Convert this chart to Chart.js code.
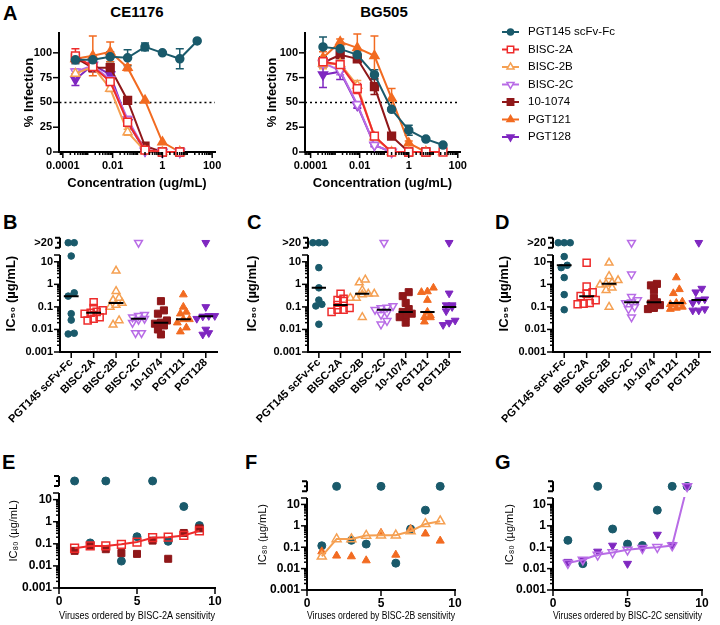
<!DOCTYPE html>
<html>
<head>
<meta charset="utf-8">
<title>BISC neutralization</title>
<script src="https://cdn.jsdelivr.net/npm/chart.js@4.4.1/dist/chart.umd.min.js"></script>
<style>
  body { margin: 0; background: #fff; }
  #page { position: relative; width: 720px; height: 625px; overflow: hidden; font-family: Arial, "Liberation Sans", sans-serif; }
  #page canvas { position: absolute; }
  .lbl { position: absolute; font-weight: bold; color: #000; white-space: nowrap; line-height: 1; }
  .panel { font-size: 20px; }
  .ttl { font-size: 15px; transform: translateX(-50%); }
</style>
</head>
<body>
<div id="page">
  <div class="lbl panel" style="left:3px;top:3px">A</div>
  <div class="lbl ttl" style="left:137px;top:4px">CE1176</div>
  <div class="lbl ttl" style="left:384px;top:4px">BG505</div>
  <div class="lbl panel" style="left:3px;top:212px">B</div>
  <div class="lbl panel" style="left:247px;top:212px">C</div>
  <div class="lbl panel" style="left:495px;top:212px">D</div>
  <div class="lbl panel" style="left:2px;top:452px">E</div>
  <div class="lbl panel" style="left:245px;top:452px">F</div>
  <div class="lbl panel" style="left:495px;top:452px">G</div>
</div>
<script>
// ---- data ----
var names = ['PGT145 scFv-Fc', 'BISC-2A', 'BISC-2B', 'BISC-2C', '10-1074', 'PGT121', 'PGT128'];
var GT = '>20';          // value above the top of the axis
var GT_AT = 70;          // where the ">20" row sits on the log axis

// panel A: antibody concentration (ug/mL), 5-fold dilutions
var conc = [0.00032, 0.0016, 0.008, 0.04, 0.2, 1, 5, 25];
var concTickLabels = ['0.0001', '0.01', '1', '100'];
var infTickLabels = [0, 25, 50, 75, 100];

// % infection, CE1176
var ce_pgt145 = [93, 93, 96, 95, 106, 100, 94, 112];
var ce_pgt145_err = [4, 3, 5, 8, 4, 1, 10, 0];
var ce_bisc2a = [97, 86, 71, 30, 2, 0, 0];
var ce_bisc2a_err = [7, 3, 3, 3, 1, 0, 0];
var ce_bisc2b = [79, 86, 64, 20, 1, 0, 0];
var ce_bisc2b_err = [4, 3, 3, 3, 0, 0, 0];
var ce_bisc2c = [81, 87, 73, 33, 2, 0, 0];
var ce_bisc2c_err = [3, 2, 3, 3, 0, 0, 0];
var ce_1074 = [95, 85, 85, 52, 6, 0, 0];
var ce_1074_err = [3, 4, 3, 2, 1, 0, 0];
var ce_pgt121 = [94, 97, 101, 85, 52, 10, 0];
var ce_pgt121_err = [3, 20, 10, 3, 0, 0, 0];
var ce_pgt128 = [73, 88, 78, 30, 1, 0, 0];
var ce_pgt128_err = [6, 3, 3, 3, 0, 0, 0];

// % infection, BG505
var bg_pgt145 = [106, 104, 98, 78, 43, 22, 13, 7];
var bg_pgt145_err = [10, 3, 4, 5, 2, 5, 1, 1];
var bg_bisc2a = [91, 88, 64, 16, 0, 0, 0, 0];
var bg_bisc2a_err = [3, 3, 5, 2, 0, 0, 0, 0];
var bg_bisc2b = [89, 89, 67, 15, 0, 0, 0, 0];
var bg_bisc2b_err = [5, 3, 5, 2, 0, 0, 0, 0];
var bg_bisc2c = [90, 82, 48, 7, 0];
var bg_bisc2c_err = [3, 4, 3, 2, 0];
var bg_1074 = [90, 98, 94, 66, 16, 0, 0];
var bg_1074_err = [3, 3, 3, 8, 2, 0, 0];
var bg_pgt121 = [95, 111, 105, 97, 54, 9, 0];
var bg_pgt121_err = [6, 3, 14, 20, 10, 2, 0];
var bg_pgt128 = [78, 81, 47, 7, 0];
var bg_pgt128_err = [13, 8, 3, 1, 0];

// panels B-G: log axis labels
var icTickLabels = ['0.001', '0.01', '0.1', '1', '10'];
var virusTickLabels = [0, 5, 10];

// B: IC50 (ug/mL) per virus
var ic50_pgt145 = [GT, GT, 18, 0.42, 0.30, 0.05, 0.026, 0.0063, 0.0068];
var ic50_bisc2a = [0.16, 0.09, 0.07, 0.06, 0.055, 0.05, 0.035, 0.03, 0.025];
var ic50_bisc2b = [4, 0.5, 0.25, 0.2, 0.15, 0.12, 0.1, 0.025, 0.016];
var ic50_bisc2c = [GT, 0.045, 0.04, 0.035, 0.03, 0.027, 0.02, 0.007, 0.007];
var ic50_1074 = [0.18, 0.07, 0.05, 0.025, 0.02, 0.018, 0.015, 0.01, 0.006];
var ic50_pgt121 = [0.35, 0.1, 0.06, 0.05, 0.028, 0.028, 0.02, 0.012, 0.008];
var ic50_pgt128 = [GT, 0.1, 0.04, 0.04, 0.038, 0.03, 0.01, 0.007, 0.006];

// C: IC80
var ic80_pgt145 = [GT, GT, GT, 5.5, 0.7, 0.2, 0.13, 0.11, 0.017];
var ic80_bisc2a = [0.38, 0.23, 0.2, 0.18, 0.12, 0.09, 0.075, 0.075, 0.06];
var ic80_bisc2b = [1.6, 1.2, 0.55, 0.38, 0.38, 0.35, 0.25, 0.25, 0.035];
var ic80_bisc2c = [GT, 0.11, 0.095, 0.09, 0.075, 0.055, 0.045, 0.024, 0.017];
var ic80_1074 = [0.45, 0.3, 0.15, 0.08, 0.06, 0.05, 0.04, 0.035, 0.02];
var ic80_pgt121 = [0.7, 0.48, 0.45, 0.2, 0.06, 0.042, 0.035, 0.034, 0.022];
var ic80_pgt128 = [GT, 0.4, 0.12, 0.12, 0.1, 0.065, 0.025, 0.02, 0.016];

// D: IC95
var ic95_pgt145 = [GT, GT, GT, 17, 7, 5.5, 2.0, 0.35, 0.075];
var ic95_bisc2a = [9, 0.8, 0.45, 0.38, 0.3, 0.2, 0.15, 0.14, 0.13];
var ic95_bisc2b = [9, 2.3, 1.5, 1.2, 1.05, 0.95, 0.7, 0.55, 0.1];
var ic95_bisc2c = [GT, 2.8, 0.28, 0.2, 0.16, 0.15, 0.1, 0.08, 0.035];
var ic95_1074 = [1.05, 0.9, 0.55, 0.25, 0.16, 0.14, 0.12, 0.09, 0.08];
var ic95_pgt121 = [2, 0.6, 0.4, 0.17, 0.15, 0.13, 0.1, 0.09, 0.08];
var ic95_pgt128 = [GT, 0.65, 0.45, 0.22, 0.2, 0.15, 0.08, 0.07, 0.07];

// E-G: IC80 with viruses 1..9 ordered by BISC sensitivity
var viruses = [1, 2, 3, 4, 5, 6, 7, 8, 9];
var e_bisc2a = [0.063, 0.08, 0.08, 0.095, 0.12, 0.19, 0.2, 0.24, 0.39];
var e_1074 = [0.048, 0.08, 0.057, 0.038, 0.035, 0.14, 0.021, 0.31, 0.5];
var e_pgt145 = [GT, 0.11, GT, 0.0165, 0.21, GT, 0.13, 4.9, 0.67];
var f_bisc2b = [0.037, 0.24, 0.24, 0.35, 0.36, 0.36, 0.56, 1.23, 1.65];
var f_pgt121 = [0.063, 0.04, 0.037, 0.024, 0.46, 0.044, 0.7, 0.43, 0.2];
var f_pgt145 = [0.117, GT, 0.21, 0.14, GT, 0.018, 0.71, 5.4, GT];
var g_bisc2c = [0.018, 0.026, 0.044, 0.057, 0.076, 0.09, 0.1, 0.12, GT];
var g_pgt128 = [0.021, 0.025, 0.063, 0.12, 0.017, 0.09, 0.39, 0.13, GT];
var g_pgt145 = [0.21, 0.017, GT, 0.71, 0.14, 0.12, 5.4, GT, GT];

// ---- styles ----
var FONT = 'Arial, "Liberation Sans", sans-serif';
Chart.defaults.font.family = FONT;
Chart.defaults.color = '#000';

var colors = ['#1a5a6b', '#ee2b2b', '#f5a052', '#b86ce6', '#8f1719', '#f26b21', '#7f27c0'];
var shapes = ['circle', 'rect', 'triangle', 'triangle', 'rect', 'triangle', 'triangle'];
var rots = [0, 0, 0, 180, 0, 0, 180];
var filled = [true, false, false, false, true, true, true];
var AXIS_TOP = 20;      // broken log axis stops here
var LOG_MAX = 150;      // room above it for the ">20" row

function num(v) { return v === GT ? GT_AT : v; }

function radius(k, big) {
  if (shapes[k] === 'circle') return big ? 4 : 3.3;
  if (shapes[k] === 'rect') return big ? 5.5 : 5;
  return big ? 5.2 : 4.5;
}

function logTicks(lo, hi) {
  var out = [];
  for (var e = -5; e <= 2; e++) {
    for (var m = 1; m <= 9; m++) {
      var v = parseFloat((m * Math.pow(10, e)).toPrecision(2));
      if (v < lo * 0.999 || v > hi * 1.001) continue;
      out.push({ value: v, major: m === 1 || Math.abs(v - hi) < 1e-9 });
    }
  }
  return out;
}

// short major / minor tick marks
var tickMarks = {
  id: 'tickMarks',
  afterDraw: function (chart) {
    var ctx = chart.ctx;
    ctx.save();
    ctx.strokeStyle = '#000';
    ctx.lineWidth = 1.5;
    ['x', 'y'].forEach(function (k) {
      var s = chart.scales[k];
      s.ticks.forEach(function (t) {
        var len = t.major ? 6 : 3;
        var p = s.getPixelForValue(t.value);
        ctx.beginPath();
        if (s.isHorizontal()) { ctx.moveTo(p, s.top); ctx.lineTo(p, s.top + len); }
        else { ctx.moveTo(s.right, p); ctx.lineTo(s.right - len, p); }
        ctx.stroke();
      });
    });
    ctx.restore();
  }
};

var errorBars = {
  id: 'errorBars',
  beforeDatasetsDraw: function (chart) {
    var ctx = chart.ctx, xs = chart.scales.x, ys = chart.scales.y;
    chart.data.datasets.forEach(function (ds) {
      if (!ds.err) return;
      ctx.save();
      ctx.strokeStyle = ds.borderColor;
      ctx.lineWidth = 1.5;
      ds.data.forEach(function (p, i) {
        var e = ds.err[i];
        if (!e) return;
        var x = xs.getPixelForValue(p.x);
        var y1 = ys.getPixelForValue(Math.max(0, p.y - e)), y2 = ys.getPixelForValue(p.y + e);
        ctx.beginPath();
        ctx.moveTo(x, y1); ctx.lineTo(x, y2);
        ctx.moveTo(x - 4, y1); ctx.lineTo(x + 4, y1);
        ctx.moveTo(x - 4, y2); ctx.lineTo(x + 4, y2);
        ctx.stroke();
      });
      ctx.restore();
    });
  }
};

// y axis line up to 20, then the ">20" row with its short axis piece
function brokenAxis(withLabel) {
  return {
    id: 'brokenAxis',
    afterDraw: function (chart) {
      var ctx = chart.ctx, a = chart.chartArea, ys = chart.scales.y;
      var top = ys.getPixelForValue(AXIS_TOP);
      var y = ys.getPixelForValue(GT_AT);
      ctx.save();
      ctx.strokeStyle = '#000';
      ctx.lineWidth = 2;
      ctx.beginPath();
      ctx.moveTo(a.left, a.bottom + 1); ctx.lineTo(a.left, top);
      ctx.moveTo(a.left, y - 5); ctx.lineTo(a.left, y + 5);
      ctx.moveTo(a.left, y - 5); ctx.lineTo(a.left - 5, y - 5);
      ctx.moveTo(a.left, y + 5); ctx.lineTo(a.left - 5, y + 5);
      ctx.moveTo(a.left, y); ctx.lineTo(a.left - 3, y);
      ctx.stroke();
      if (withLabel) {
        ctx.fillStyle = '#000';
        ctx.font = 'bold 11px ' + FONT;
        ctx.textAlign = 'right';
        ctx.textBaseline = 'middle';
        ctx.fillText('>20', a.left - 7, y);
      }
      ctx.restore();
    }
  };
}

function drawMarker(ctx, k, r, x, y) {
  ctx.save();
  ctx.translate(x, y);
  ctx.rotate(rots[k] * Math.PI / 180);
  ctx.beginPath();
  if (shapes[k] === 'circle') ctx.arc(0, 0, r, 0, Math.PI * 2);
  else if (shapes[k] === 'rect') { var s = r * Math.SQRT1_2; ctx.rect(-s, -s, 2 * s, 2 * s); }
  else {
    for (var i = 0; i < 3; i++) {
      var ang = i * 2 * Math.PI / 3;
      if (i === 0) ctx.moveTo(Math.sin(ang) * r, -Math.cos(ang) * r);
      else ctx.lineTo(Math.sin(ang) * r, -Math.cos(ang) * r);
    }
    ctx.closePath();
  }
  ctx.fillStyle = filled[k] ? colors[k] : '#fff';
  ctx.fill();
  ctx.lineWidth = 1.5;
  ctx.strokeStyle = colors[k];
  ctx.stroke();
  ctx.restore();
}

var sideLegend = {
  id: 'sideLegend',
  afterDraw: function (chart) {
    var ctx = chart.ctx;
    ctx.save();
    ctx.font = '11.5px ' + FONT;
    ctx.textBaseline = 'middle';
    names.forEach(function (n, k) {
      var y = 32 + k * 17.5;
      ctx.strokeStyle = colors[k];
      ctx.lineWidth = 2;
      ctx.beginPath(); ctx.moveTo(262, y); ctx.lineTo(279, y); ctx.stroke();
      drawMarker(ctx, k, radius(k, false) * 0.9, 270.5, y);
      ctx.fillStyle = '#000';
      ctx.fillText(n, 288, y);
    });
    ctx.restore();
  }
};

// ---- helpers to build the panels ----
function makeCanvas(box) {
  var c = document.createElement('canvas');
  c.width = box.w; c.height = box.h;
  c.style.left = box.cx + 'px'; c.style.top = box.cy + 'px';
  document.getElementById('page').appendChild(c);
  return c.getContext('2d');
}

function options(box, xs, ys) {
  xs.afterFit = function (s) { s.height = box.cy + box.h - box.bottom; s.paddingLeft = 0; s.paddingRight = 0; };
  ys.afterFit = function (s) { s.width = box.left - box.cx - box.padL; s.paddingTop = 0; s.paddingBottom = 0; };
  return {
    responsive: false, animation: false, devicePixelRatio: 1,
    layout: { padding: { left: box.padL, top: box.top - box.cy, right: box.cx + box.w - box.right, bottom: 0 } },
    plugins: { legend: { display: false }, tooltip: { enabled: false } },
    scales: { x: xs, y: ys }
  };
}

// box.top is where 20 sits; the plot area reaches higher to hold the ">20" row
function logBox(box) {
  var ppd = (box.bottom - box.top) / Math.log10(AXIS_TOP / 0.001);
  var b = Object.assign({}, box);
  b.gap = Math.log10(LOG_MAX / AXIS_TOP) * ppd;
  b.top = box.top - b.gap;
  b.ppd = ppd;
  return b;
}

function logY(size, title, titleSize, titleBold) {
  return {
    type: 'logarithmic', min: 0.001, max: LOG_MAX,
    afterBuildTicks: function (s) { s.ticks = logTicks(0.001, AXIS_TOP); },
    grid: { display: false, drawTicks: false },
    border: { display: false },
    ticks: {
      autoSkip: false, padding: 7, font: { size: size, weight: 'bold' },
      callback: function (v) { return icTickLabels.indexOf(String(v)) >= 0 ? String(v) : ''; }
    },
    title: { display: true, text: title, font: { size: titleSize, weight: titleBold ? 'bold' : 'normal' }, padding: { top: 4, bottom: 4 } }
  };
}

function seriesA(vals, errs, k) {
  return {
    label: names[k],
    data: vals.map(function (v, i) { return { x: conc[i], y: v }; }),
    err: errs,
    showLine: true,
    borderColor: colors[k], borderWidth: 2,
    backgroundColor: filled[k] ? colors[k] : '#fff',
    pointStyle: shapes[k], pointRotation: rots[k], pointRadius: radius(k, true),
    pointBorderWidth: 1.5, clip: false
  };
}

function infectionPanel(box, sets, xmin, xmax, legend) {
  var ds = sets.map(function (s, k) { return seriesA(s[0], s[1], k); });
  ds.push({
    data: [{ x: xmin, y: 50 }, { x: xmax, y: 50 }], showLine: true, pointRadius: 0,
    borderColor: '#000', borderWidth: 1.5, borderDash: [2, 3], order: 10
  });
  var xs = {
    type: 'logarithmic', min: xmin, max: xmax,
    afterBuildTicks: function (s) {
      s.ticks = logTicks(xmin, xmax).map(function (t) {
        return { value: t.value, major: concTickLabels.indexOf(String(t.value)) >= 0 };
      });
    },
    grid: { display: false, drawTicks: false },
    border: { color: '#000', width: 2 },
    ticks: {
      autoSkip: false, maxRotation: 0, padding: 7, font: { size: 11, weight: 'bold' },
      callback: function (v) { return concTickLabels.indexOf(String(v)) >= 0 ? String(v) : ''; }
    },
    title: { display: true, text: 'Concentration (ug/mL)', font: { size: 13, weight: 'bold' }, padding: { top: 2, bottom: 4 } }
  };
  var ys = {
    type: 'linear', min: 0, max: 120,
    afterBuildTicks: function (s) { s.ticks = infTickLabels.map(function (v) { return { value: v, major: true }; }); },
    grid: { display: false, drawTicks: false },
    border: { color: '#000', width: 2 },
    ticks: { autoSkip: false, padding: 7, font: { size: 11, weight: 'bold' } },
    title: { display: true, text: '% Infection', font: { size: 13, weight: 'bold' }, padding: { top: 4, bottom: 4 } }
  };
  var plugins = [errorBars, tickMarks];
  if (legend) plugins.push(sideLegend);
  new Chart(makeCanvas(box), { type: 'scatter', data: { datasets: ds }, options: options(box, xs, ys), plugins: plugins });
}

// groups points of similar height into rows and centres each row on the category
function swarm(vals, ppd, ppc) {
  var d = 6;
  var idx = vals.map(function (v, i) { return i; }).sort(function (a, b) { return vals[a] - vals[b]; });
  var offs = vals.map(function () { return 0; });
  var row = [], rowY = null;
  function flush() {
    row.forEach(function (i, j) { offs[i] = (j - (row.length - 1) / 2) * d / ppc; });
    row = [];
  }
  idx.forEach(function (i) {
    var y = Math.log10(vals[i]) * ppd;
    if (rowY === null || y - rowY > 4.5) { flush(); rowY = y; }
    row.push(i);
  });
  flush();
  return offs;
}

function median(vals) {
  var s = vals.slice().sort(function (a, b) { return a - b; });
  var n = s.length;
  return n % 2 ? s[(n - 1) / 2] : Math.sqrt(s[n / 2 - 1] * s[n / 2]);
}

function dotPanel(box0, sets, title) {
  var box = logBox(box0);
  var ppc = (box.right - box.left) / 7;
  var ds = [], med = [];
  sets.forEach(function (vals, k) {
    var nums = vals.map(num);
    var offs = swarm(nums, box.ppd, ppc);
    ds.push({
      label: names[k],
      data: nums.map(function (v, i) { return { x: k + offs[i], y: v }; }),
      borderColor: colors[k], backgroundColor: filled[k] ? colors[k] : 'rgba(255,255,255,0)',
      pointStyle: shapes[k], pointRotation: rots[k], pointRadius: radius(k, false),
      pointBorderWidth: filled[k] ? 1 : 1.5, clip: false
    });
    var m = median(nums);
    med.push({ x: k - 0.33, y: m }, { x: k + 0.33, y: m }, { x: k + 0.5, y: null });
  });
  ds.push({ data: med, showLine: true, spanGaps: false, pointRadius: 0, borderColor: '#000', borderWidth: 2, order: -1 });
  var xs = {
    type: 'linear', min: -0.5, max: 6.5,
    afterBuildTicks: function (s) { s.ticks = names.map(function (n, i) { return { value: i, major: true }; }); },
    grid: { display: false, drawTicks: false },
    border: { color: '#000', width: 2 },
    ticks: {
      autoSkip: false, minRotation: 45, maxRotation: 45, padding: 4, font: { size: 11, weight: 'bold' },
      callback: function (v) { return names[v]; }
    }
  };
  var ys = logY(11, title, 13, true);
  new Chart(makeCanvas(box), {
    type: 'scatter', data: { datasets: ds }, options: options(box, xs, ys),
    plugins: [tickMarks, brokenAxis(true)]
  });
}

function virusPanel(box0, lineVals, lineK, dotVals, dotK, refVals, title) {
  var box = logBox(box0);
  var pts = function (vals) { return vals.map(function (v, i) { return { x: viruses[i], y: num(v) }; }); };
  var ds = [];
  ds.push({
    data: pts(lineVals), showLine: true, pointRadius: 0, borderColor: colors[lineK], borderWidth: 2, order: 1,
    clip: { left: 2, right: 2, bottom: 2, top: 1 - box.gap }
  });
  ds.push({
    data: pts(lineVals), borderColor: colors[lineK], backgroundColor: 'rgba(255,255,255,0)',
    pointStyle: shapes[lineK], pointRotation: rots[lineK], pointRadius: radius(lineK, true),
    pointBorderWidth: 1.5, clip: false, order: 0
  });
  ds.push({
    data: pts(dotVals), borderColor: colors[dotK], backgroundColor: colors[dotK],
    pointStyle: shapes[dotK], pointRotation: rots[dotK], pointRadius: radius(dotK, true) * 0.9,
    pointBorderWidth: 1, clip: false, order: 2
  });
  ds.push({
    data: pts(refVals), borderColor: colors[0], backgroundColor: colors[0],
    pointStyle: 'circle', pointRadius: 4, pointBorderWidth: 1, clip: false, order: 3
  });
  var xs = {
    type: 'linear', min: 0, max: 10,
    afterBuildTicks: function (s) { s.ticks = virusTickLabels.map(function (v) { return { value: v, major: true }; }); },
    grid: { display: false, drawTicks: false },
    border: { color: '#000', width: 2 },
    ticks: { autoSkip: false, maxRotation: 0, padding: 6, font: { size: 12, weight: 'bold' } },
    title: { display: true, text: title, font: { size: 11 }, padding: { top: 2, bottom: 2 } }
  };
  var ys = logY(12, 'IC\u2088\u2080 (\u00b5g/mL)', 11, false);
  new Chart(makeCanvas(box), {
    type: 'scatter', data: { datasets: ds }, options: options(box, xs, ys),
    plugins: [tickMarks, brokenAxis(false)]
  });
}

// ---- panels ----
infectionPanel({ cx: 0, cy: 0, w: 240, h: 195, left: 59, right: 215, top: 33, bottom: 152, padL: 18 }, [
  [ce_pgt145, ce_pgt145_err], [ce_bisc2a, ce_bisc2a_err], [ce_bisc2b, ce_bisc2b_err], [ce_bisc2c, ce_bisc2c_err],
  [ce_1074, ce_1074_err], [ce_pgt121, ce_pgt121_err], [ce_pgt128, ce_pgt128_err]
], 7.3e-5, 130, false);

infectionPanel({ cx: 240, cy: 0, w: 480, h: 195, left: 305, right: 460, top: 33, bottom: 152, padL: 21 }, [
  [bg_pgt145, bg_pgt145_err], [bg_bisc2a, bg_bisc2a_err], [bg_bisc2b, bg_bisc2b_err], [bg_bisc2c, bg_bisc2c_err],
  [bg_1074, bg_1074_err], [bg_pgt121, bg_pgt121_err], [bg_pgt128, bg_pgt128_err]
], 5.9e-5, 123, true);

dotPanel({ cx: 0, cy: 200, w: 240, h: 245, left: 60, right: 217, top: 255, bottom: 352, padL: 0 },
  [ic50_pgt145, ic50_bisc2a, ic50_bisc2b, ic50_bisc2c, ic50_1074, ic50_pgt121, ic50_pgt128], 'IC\u2085\u2080 (\u00b5g/mL)');
dotPanel({ cx: 240, cy: 200, w: 240, h: 245, left: 308, right: 460, top: 255, bottom: 352, padL: 1 },
  [ic80_pgt145, ic80_bisc2a, ic80_bisc2b, ic80_bisc2c, ic80_1074, ic80_pgt121, ic80_pgt128], 'IC\u2088\u2080 (\u00b5g/mL)');
dotPanel({ cx: 480, cy: 200, w: 240, h: 245, left: 553, right: 710, top: 255, bottom: 352, padL: 13 },
  [ic95_pgt145, ic95_bisc2a, ic95_bisc2b, ic95_bisc2c, ic95_1074, ic95_pgt121, ic95_pgt128], 'IC\u2089\u2085 (\u00b5g/mL)');

virusPanel({ cx: 0, cy: 445, w: 240, h: 180, left: 59, right: 215, top: 493, bottom: 588, padL: 3 },
  e_bisc2a, 1, e_1074, 4, e_pgt145, 'Viruses ordered by BISC-2A sensitivity');
virusPanel({ cx: 240, cy: 445, w: 240, h: 180, left: 307, right: 455, top: 498, bottom: 590, padL: 12 },
  f_bisc2b, 2, f_pgt121, 5, f_pgt145, 'Viruses ordered by BISC-2B sensitivity');
virusPanel({ cx: 480, cy: 445, w: 240, h: 180, left: 553, right: 702, top: 498, bottom: 590, padL: 19 },
  g_bisc2c, 3, g_pgt128, 6, g_pgt145, 'Viruses ordered by BISC-2C sensitivity');
</script>
</body>
</html>
